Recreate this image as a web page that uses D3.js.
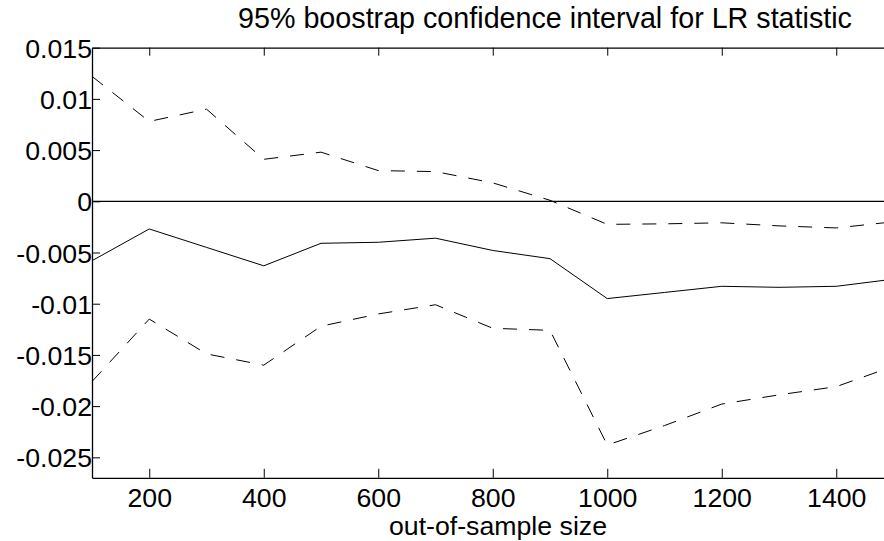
<!DOCTYPE html>
<html>
<head>
<meta charset="utf-8">
<script src="https://cdn.jsdelivr.net/npm/d3@7"></script>
<style>
  html, body { margin: 0; padding: 0; background: #fff; }
  svg { display: block; }
  text { font-family: "Liberation Sans", Arial, sans-serif; fill: #000; }
</style>
</head>
<body>
<svg id="chart" width="884" height="541"></svg>
<script>
// ---- data ----
const sampleSizes = [100, 200, 300, 400, 500, 600, 700, 800, 900, 1000, 1100, 1200, 1300, 1400, 1500];
const upperBound  = [0.0122, 0.0078, 0.0090, 0.0041, 0.0048, 0.0030, 0.0029, 0.0018, 0.0001, -0.00225, -0.0022, -0.0021, -0.0024, -0.0026, -0.0020];
const lrStatistic = [-0.0058, -0.0027, -0.0045, -0.0063, -0.0041, -0.0040, -0.0036, -0.0048, -0.0056, -0.0095, -0.0089, -0.0083, -0.0084, -0.0083, -0.0076];
const lowerBound  = [-0.0176, -0.0115, -0.0149, -0.0160, -0.0122, -0.0110, -0.0101, -0.0124, -0.0126, -0.0238, -0.0219, -0.0198, -0.0189, -0.0181, -0.0161];
const xTicks = [200, 400, 600, 800, 1000, 1200, 1400];
const xTickLabels = ["200", "400", "600", "800", "1000", "1200", "1400"];
const yTicks = [0.015, 0.01, 0.005, 0, -0.005, -0.01, -0.015, -0.02, -0.025];
const yTickLabels = ["0.015", "0.01", "0.005", "0", "-0.005", "-0.01", "-0.015", "-0.02", "-0.025"];
const titleText = "95% boostrap confidence interval for LR statistic";
const xLabelText = "out-of-sample size";

// ---- layout ----
const svg = d3.select("#chart");
const plotLeft = 92, plotRight = 893.5, plotTop = 47.7, plotBottom = 477.8;

const x = d3.scaleLinear().domain([100, 1500]).range([plotLeft, plotRight]);
const y = d3.scaleLinear().domain([-0.027, 0.015]).range([plotBottom, plotTop]);

svg.append("defs").append("clipPath").attr("id", "plotclip")
  .append("rect").attr("x", plotLeft).attr("y", plotTop)
  .attr("width", plotRight - plotLeft).attr("height", plotBottom - plotTop);

// zero line
svg.append("line")
  .attr("x1", plotLeft).attr("x2", plotRight)
  .attr("y1", y(0)).attr("y2", y(0))
  .attr("stroke", "#000").attr("stroke-width", 1.2);

const line = d3.line().x((d, i) => x(sampleSizes[i])).y(d => y(d));

const g = svg.append("g").attr("clip-path", "url(#plotclip)");
g.append("path").datum(upperBound).attr("d", line)
  .attr("fill", "none").attr("stroke", "#000").attr("stroke-width", 1)
  .attr("stroke-dasharray", "14,12");
g.append("path").datum(lrStatistic).attr("d", line)
  .attr("fill", "none").attr("stroke", "#000").attr("stroke-width", 1);
g.append("path").datum(lowerBound).attr("d", line)
  .attr("fill", "none").attr("stroke", "#000").attr("stroke-width", 1)
  .attr("stroke-dasharray", "14,12");

// axes (box with inward ticks)
const axisStyle = sel => {
  sel.select(".domain").attr("stroke", "#000").attr("stroke-width", 1.3);
  sel.selectAll(".tick line").attr("stroke", "#000").attr("stroke-width", 1);
};

const xAxisBottom = svg.append("g").attr("transform", `translate(0,${plotBottom})`)
  .call(d3.axisBottom(x).tickValues(xTicks).tickSizeInner(-9).tickSizeOuter(0)
    .tickFormat((d, i) => xTickLabels[i]).tickPadding(20))
  .call(axisStyle);
xAxisBottom.selectAll(".tick text")
  .attr("font-size", "26.7px").attr("font-family", "Liberation Sans, Arial, sans-serif")
  .attr("dy", null).attr("y", 29.5);

svg.append("g").attr("transform", `translate(0,${plotTop})`)
  .call(d3.axisTop(x).tickValues(xTicks).tickSizeInner(-8).tickSizeOuter(0).tickFormat(""))
  .call(axisStyle);

const yAxis = svg.append("g").attr("transform", `translate(${plotLeft},0)`)
  .call(d3.axisLeft(y).tickValues(yTicks).tickSizeInner(-8).tickSizeOuter(0)
    .tickFormat((d, i) => yTickLabels[i]).tickPadding(0))
  .call(axisStyle);
yAxis.selectAll(".tick text")
  .attr("font-size", "26.7px").attr("font-family", "Liberation Sans, Arial, sans-serif")
  .attr("x", 0).attr("dy", null).attr("y", 9.5).attr("text-anchor", "end");

// title and label
svg.append("text").attr("x", 545).attr("y", 28)
  .attr("text-anchor", "middle").attr("font-size", "28.7px").text(titleText);
svg.append("text").attr("x", 498).attr("y", 535)
  .attr("text-anchor", "middle").attr("font-size", "26.7px").text(xLabelText);
</script>
</body>
</html>
